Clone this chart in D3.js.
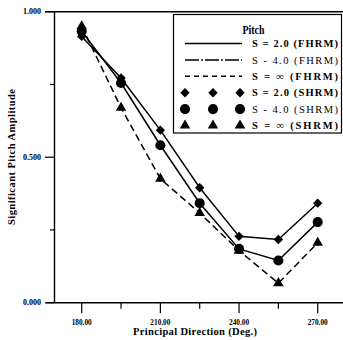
<!DOCTYPE html>
<html><head><meta charset="utf-8">
<script src="https://cdn.jsdelivr.net/npm/d3@7"></script>
<style>body{margin:0;background:#fff}svg{display:block}text{font-family:"Liberation Serif","DejaVu Serif",serif}</style>
</head><body><svg id="c" width="343" height="340"></svg>
<script>
const directions = [180, 195, 210, 225, 240, 255, 270];
const s2 = [0.915, 0.772, 0.593, 0.395, 0.228, 0.217, 0.342];
const s4 = [0.933, 0.755, 0.541, 0.342, 0.185, 0.145, 0.277];
const sInf = [0.950, 0.670, 0.426, 0.308, 0.179, 0.067, 0.206];
const xTickLabels = [180, 210, 240, 270];
const yTickLabels = [0, 0.5, 1];
const legendLabels = ["S = 2.0 (FHRM)", "S - 4.0 (FHRM)", "S = \u221e (FHRM)", "S = 2.0 (SHRM)", "S - 4.0 (SHRM)", "S = \u221e (SHRM)"];

const svg = d3.select("#c");
const x = d3.scaleLinear().domain([180, 270]).range([81.7, 317.7]);
const y = d3.scaleLinear().domain([0, 1]).range([302.7, 11.7]);
const x0 = 54.5;

svg.append("line").attr("x1", 45).attr("x2", 343).attr("y1", y(1)).attr("y2", y(1)).attr("stroke", "#000").attr("stroke-width", 1.4);
svg.append("line").attr("x1", 46).attr("x2", 343).attr("y1", y(0)).attr("y2", y(0)).attr("stroke", "#000").attr("stroke-width", 1.4);
svg.append("line").attr("x1", x0).attr("x2", x0).attr("y1", y(1)).attr("y2", y(0)).attr("stroke", "#000").attr("stroke-width", 1.4);

const yAxis = svg.append("g");
yTickLabels.forEach(v => {
  yAxis.append("line").attr("x1", 45).attr("x2", x0).attr("y1", y(v)).attr("y2", y(v)).attr("stroke", "#000").attr("stroke-width", 1.2);
  yAxis.append("text").attr("x", 41).attr("y", y(v)).attr("dy", "0.35em").attr("text-anchor", "end")
    .attr("font-size", 7.5).attr("font-weight", "bold").attr("textLength", 18).attr("lengthAdjust", "spacingAndGlyphs").text(d3.format(".3f")(v));
});
[0.25, 0.75].forEach(v => {
  yAxis.append("line").attr("x1", 50).attr("x2", x0).attr("y1", y(v)).attr("y2", y(v)).attr("stroke", "#000").attr("stroke-width", 1.2);
});
const xAxis = svg.append("g");
directions.forEach(d => {
  const major = xTickLabels.includes(d);
  xAxis.append("line").attr("x1", x(d)).attr("x2", x(d)).attr("y1", y(0)).attr("y2", y(0) + (major ? 10.5 : 6)).attr("stroke", "#000").attr("stroke-width", 1.2);
});
xTickLabels.forEach(d => {
  xAxis.append("text").attr("x", x(d)).attr("y", 324.5).attr("text-anchor", "middle")
    .attr("font-size", 7.5).attr("font-weight", "bold").attr("textLength", 20).attr("lengthAdjust", "spacingAndGlyphs").text(d3.format(".2f")(d));
});

svg.append("text").attr("x", 195).attr("y", 335).attr("text-anchor", "middle").attr("font-size", 10.5)
  .attr("font-weight", "bold").attr("textLength", 124).attr("lengthAdjust", "spacing").text("Principal Direction (Deg.)");
svg.append("text").attr("transform", "translate(15,157) rotate(-90)").attr("text-anchor", "middle").attr("font-size", 10.5)
  .attr("font-weight", "bold").attr("textLength", 136).attr("lengthAdjust", "spacing").text("Significant Pitch Amplitude");

const series = [
  {vals: s2, dash: null, legendDash: null, shape: "diamond"},
  {vals: s4, dash: null, legendDash: "14,2,2,2", shape: "circle"},
  {vals: sInf, dash: "7,4", legendDash: "5,4", shape: "triangle"}
];
const line = d3.line().x((d, i) => x(directions[i])).y(d => y(d));
const symSize = {diamond: 44, circle: 80, triangle: 48};
const symType = {diamond: d3.symbolSquare, circle: d3.symbolCircle, triangle: d3.symbolTriangle};
const symRot = {diamond: 45, circle: 0, triangle: 0};

series.forEach(s => {
  svg.append("path").attr("d", line(s.vals)).attr("fill", "none").attr("stroke", "#000").attr("stroke-width", 1.5)
    .attr("stroke-dasharray", s.dash);
});
series.forEach(s => {
  svg.append("g").selectAll("path").data(s.vals).join("path")
    .attr("transform", (d, i) => `translate(${x(directions[i])},${y(d)}) rotate(${symRot[s.shape]})`)
    .attr("d", d3.symbol().type(symType[s.shape]).size(symSize[s.shape])).attr("fill", "#000");
});

const lg = svg.append("g");
lg.append("rect").attr("x", 173.5).attr("y", 14.5).attr("width", 168).attr("height", 118.5).attr("fill", "#fff").attr("stroke", "#000").attr("stroke-width", 1.2);
lg.append("text").attr("x", 253.5).attr("y", 33.5).attr("text-anchor", "middle").attr("font-size", 13).attr("font-weight", "bold")
  .attr("textLength", 22).attr("lengthAdjust", "spacingAndGlyphs").text("Pitch");
const rowY = i => 43.5 + i * 16.4;
legendLabels.forEach((lab, i) => {
  const ry = rowY(i);
  if (i < 3) {
    lg.append("line").attr("x1", 185).attr("x2", 242).attr("y1", ry).attr("y2", ry).attr("stroke", "#000").attr("stroke-width", 1.5)
      .attr("stroke-dasharray", series[i].legendDash);
  } else {
    const s = series[i - 3];
    [185, 213, 240].forEach(mx => {
      lg.append("path").attr("transform", `translate(${mx},${ry}) rotate(${symRot[s.shape]})`)
        .attr("d", d3.symbol().type(symType[s.shape]).size(symSize[s.shape])).attr("fill", "#000");
    });
  }
  const bold = !(i === 1 || i === 4);
  lg.append("text").attr("x", 252).attr("y", ry).attr("dy", "0.35em").attr("font-size", 10.5)
    .attr("font-weight", bold ? "bold" : "normal").attr("textLength", 86).attr("lengthAdjust", "spacing").text(lab);
});
</script></body></html>
